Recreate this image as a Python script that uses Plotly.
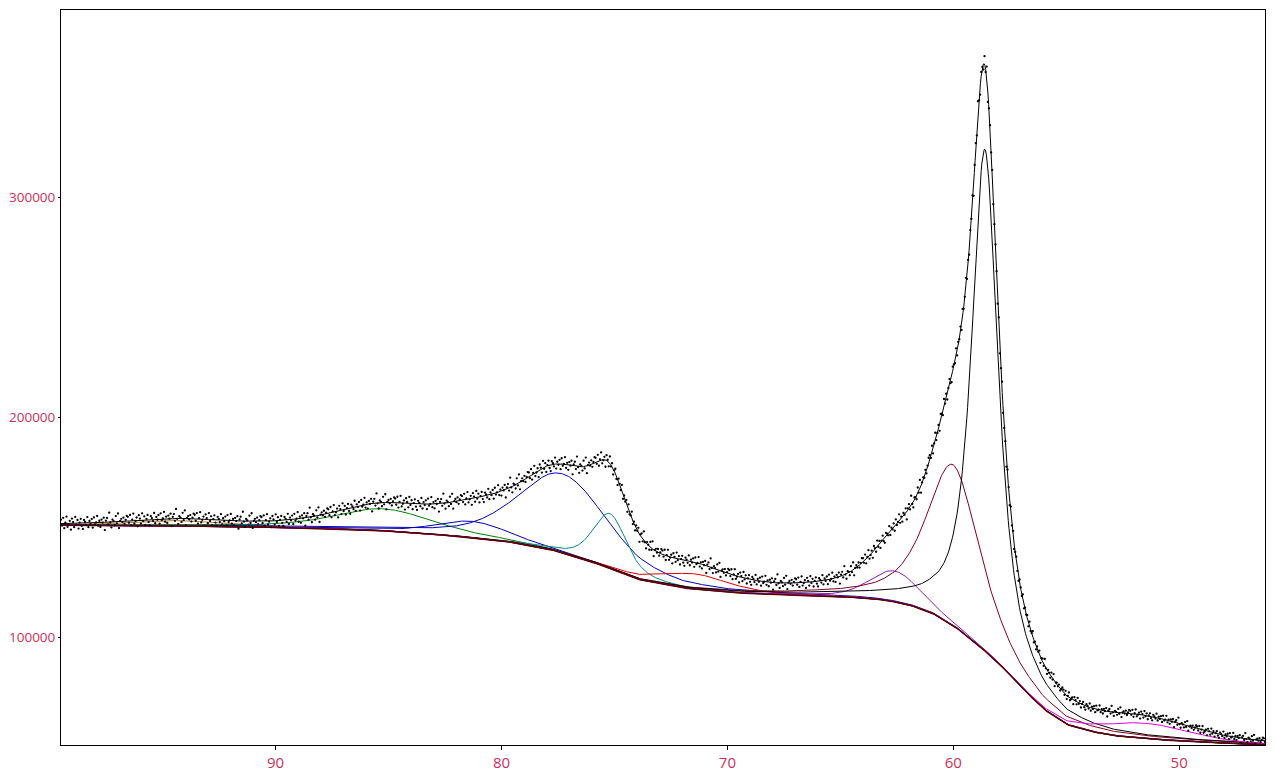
import numpy as np
import plotly.graph_objects as go

# Background (Shirley-like) control points
bg_x = [99.5, 92, 89.4, 86, 83, 80, 78, 76, 74, 72, 70, 68, 66, 64, 63, 62, 61, 60, 59, 58, 57, 56, 55, 54, 53, 51.5, 50, 48, 46.2]
bg_y = [151000, 150500, 150000, 149000, 147000, 144000, 140500, 134500, 126500, 122500, 120500, 119500, 119000, 118000, 117000, 115000, 111500, 105500, 97500, 88500, 77500, 67500, 60500, 57500, 55500, 54000, 53000, 52000, 51200]

# Fitted components: name, centre, height above background, sigma, lorentz fraction, colour
comp_names = ["C1", "C2", "C3", "C4", "C5", "C6", "C7", "C8", "C9", "C10"]
comp_center = [94.5, 85.2, 81.3, 77.3, 75.2, 71.5, 62.6, 60.0, 58.6, 51.5]
comp_height = [2500, 10000, 7500, 36000, 25000, 7000, 14000, 73000, 228000, 7000]
comp_sigma = [2.0, 2.2, 1.6, 2.0, 0.75, 1.6, 1.1, 1.2, 0.6, 2.0]
comp_eta = [0.3, 0.5, 0.5, 0.5, 0.5, 0.4, 0.4, 0.7, 0.85, 0.3]
comp_color = ["#b08020", "#008000", "#0000b0", "#0000c0", "#008b8b", "#e00000", "#8020b0", "#800020", "#000000", "#e000e0"]

# hand-read scatter of measured counts around the envelope (residuals)
residuals = [1800, -900, 2600, -2100, 400, 3100, -1500, -300, 1200, -2800, 2200, 600, -1700, 2900, -600, 1500, -2400, 300, 2000, -1200,
             -2600, 1400, 500, -900, 2700, -1900, 900, -400, 1700, -2200, 2400, -700, 100, 3000, -1400, 800, -2000, 1300, -100, 2100,
             -3500, 700, 1900, -1100, 4200, -200, -2500, 1000, 300, -1600, 2500, -800, 3600, -3000, 200, 1100, -400, 1600, -1300, 500, 2300]

x_fit = np.linspace(99.5, 46.2, 1600)
bg = np.interp(x_fit, bg_x[::-1], bg_y[::-1])

def pv(x, c, h, s, eta):
    g = np.exp(-0.5 * ((x - c) / s) ** 2)
    gam = s * 1.1774
    l = 1.0 / (1.0 + ((x - c) / gam) ** 2)
    return h * ((1 - eta) * g + eta * l)

fig = go.Figure()
comps = []
for i in range(len(comp_names)):
    p = pv(x_fit, comp_center[i], comp_height[i], comp_sigma[i], comp_eta[i])
    comps.append(p)
    fig.add_trace(go.Scatter(x=x_fit, y=bg + p, mode="lines", line=dict(color=comp_color[i], width=1), name=comp_names[i]))
fig.add_trace(go.Scatter(x=x_fit, y=bg, mode="lines", line=dict(color="#5a0000", width=1.5), name="BG"))

env = bg + np.sum(comps, axis=0)
x_data = np.linspace(99.5, 46.2, 1100)
env_d = np.interp(x_data, x_fit[::-1], env[::-1])
res = np.array([residuals[i % len(residuals)] for i in range(len(x_data))])
scale = np.sqrt(env_d / 150000.0)
y_data = env_d + res * scale
fig.add_trace(go.Scatter(x=x_data, y=y_data, mode="markers", marker=dict(color="black", size=2.3), name="data"))
fig.add_trace(go.Scatter(x=x_fit, y=env, mode="lines", line=dict(color="black", width=1), name="envelope"))

tick_col = "#c8325a"
fig.update_layout(
    width=1260, height=765, showlegend=False,
    plot_bgcolor="white", paper_bgcolor="white",
    margin=dict(l=53, r=3, t=2, b=28),
    font=dict(family="Open Sans", size=15, color=tick_col),
)
fig.update_xaxes(range=[99.5, 46.2], tickvals=[90, 80, 70, 60, 50], showgrid=False, zeroline=False, automargin=False,
                 showline=True, linecolor="black", mirror=True, ticks="outside", ticklen=4, tickcolor="black",
                 tickfont=dict(color=tick_col, size=15))
fig.update_yaxes(range=[51136, 385227], tickvals=[100000, 200000, 300000], showgrid=False, zeroline=False, automargin=False,
                 showline=True, linecolor="black", mirror=True, ticks="outside", ticklen=2, tickcolor="black",
                 tickfont=dict(color=tick_col, size=13.5), tickformat="d")
fig.write_html("out.html")
